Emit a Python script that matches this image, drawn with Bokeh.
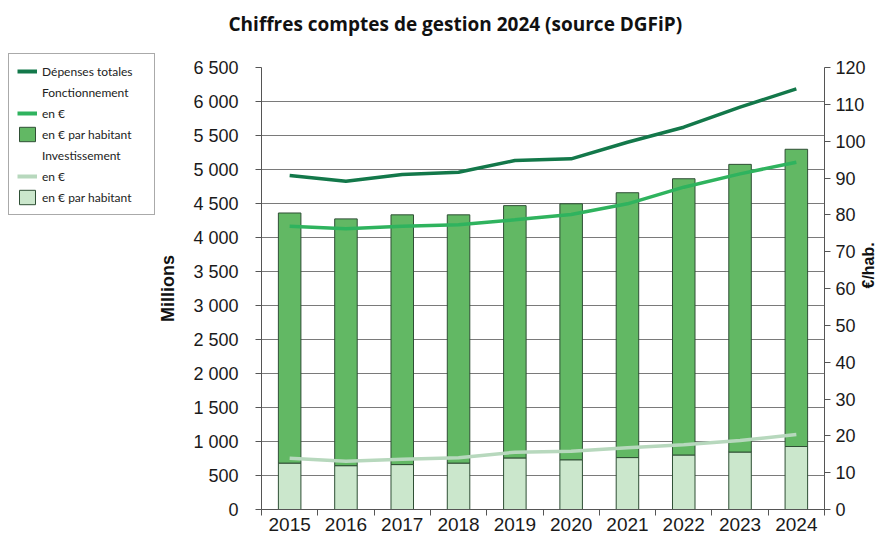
from bokeh.plotting import figure
from bokeh.models import (Range1d, LinearAxis, FixedTicker, Legend, LegendItem)
from bokeh.layouts import row, column
from bokeh.embed import file_html
from bokeh.resources import INLINE
import math

# ---- data ----
years = ["2015", "2016", "2017", "2018", "2019", "2020", "2021", "2022", "2023", "2024"]
depenses_totales = [4912, 4828, 4926, 4960, 5132, 5157, 5401, 5622, 5917, 6186]      # millions €
fonctionnement_eur = [4166, 4128, 4166, 4187, 4260, 4338, 4495, 4740, 4936, 5107]    # millions €
investissement_eur = [754, 710, 740, 760, 843, 857, 907, 951, 1015, 1103]            # millions €
investissement_hab = [12.6, 11.9, 12.2, 12.6, 14.0, 13.5, 14.1, 14.8, 15.6, 17.1]    # €/hab
fonctionnement_hab = [67.9, 67.0, 67.8, 67.4, 68.5, 69.5, 71.9, 75.0, 78.1, 80.7]    # €/hab
left_ticks = list(range(0, 6501, 500))
right_ticks = list(range(0, 121, 10))
title_text = "Chiffres comptes de gestion 2024 (source DGFiP)"

C_DARK = "#13784a"
C_MED = "#2fb35e"
C_LIGHT = "#b7d8bd"
BAR_MED = "#62b864"
BAR_LIGHT = "#cbe7cc"
BAR_EDGE = "#2f4f35"

xs = [i + 0.5 for i in range(len(years))]
bar_top = [a + b for a, b in zip(investissement_hab, fonctionnement_hab)]

TOP_H = 44
ROW_H = 542 - TOP_H
LEG_W = 155

# ---------------- title strip ----------------
t = figure(width=888, height=TOP_H, output_backend="svg", toolbar_location=None,
           x_axis_type=None, y_axis_type=None, x_range=Range1d(0, 1), y_range=Range1d(0, 1),
           min_border_left=0, min_border_right=0, min_border_top=0, min_border_bottom=0)
t.frame_align = False
t.outline_line_color = None
t.grid.visible = False
t.title.text = title_text
t.title.align = "left"
t.title.offset = 228
t.title.standoff = 16
t.title.text_font = "Open Sans"
t.title.text_font_style = "bold"
t.title.text_font_size = "19px"
t.title.text_color = "#111111"

# ---------------- main chart ----------------
p = figure(width=888 - LEG_W, height=ROW_H, output_backend="svg", toolbar_location=None,
           x_range=Range1d(0, len(years)), y_range=Range1d(0, 6500),
           min_border_left=256 - LEG_W, min_border_right=61,
           min_border_top=67 - TOP_H, min_border_bottom=33)
p.frame_align = False
p.extra_y_ranges = {"hab": Range1d(0, 120)}
p.outline_line_color = None
p.background_fill_color = "white"
p.border_fill_color = "white"

p.xgrid.visible = False
p.ygrid.ticker = FixedTicker(ticks=left_ticks)
p.ygrid.grid_line_color = "#7a7a7a"
p.ygrid.grid_line_width = 1

# bars (right axis, €/hab)
p.vbar(x=xs, bottom=0, top=investissement_hab, width=0.4, y_range_name="hab",
       fill_color=BAR_LIGHT, line_color=BAR_EDGE, line_width=1)
p.vbar(x=xs, bottom=investissement_hab, top=bar_top, width=0.4, y_range_name="hab",
       fill_color=BAR_MED, line_color=BAR_EDGE, line_width=1)

# lines (left axis, millions)
p.line(xs, investissement_eur, line_color=C_LIGHT, line_width=3.5)
p.line(xs, fonctionnement_eur, line_color=C_MED, line_width=3.5)
p.line(xs, depenses_totales, line_color=C_DARK, line_width=3.5)

tick_font = "Liberation Sans"
ax = p.xaxis[0]
ax.ticker = FixedTicker(ticks=xs, minor_ticks=list(range(0, len(years) + 1)))
ax.major_label_overrides = {x: y for x, y in zip(xs, years)}
ax.major_tick_out = 0
ax.major_tick_in = 0
ax.minor_tick_out = 6
ax.minor_tick_in = 0
ax.major_label_standoff = 2
ax.major_label_text_font = tick_font
ax.major_label_text_font_size = "19px"
ax.major_label_text_color = "#1a1a1a"
ax.axis_line_color = "#555555"
ax.minor_tick_line_color = "#555555"

ay = p.yaxis[0]
ay.ticker = FixedTicker(ticks=left_ticks)
ay.major_label_overrides = {t_: (f"{t_:,}".replace(",", " ")) for t_ in left_ticks}
ay.minor_tick_line_color = None
ay.major_tick_out = 6
ay.major_tick_in = 0
ay.major_label_standoff = 17
ay.major_label_text_font = tick_font
ay.major_label_text_font_size = "18px"
ay.major_label_text_color = "#1a1a1a"
ay.axis_line_color = "#555555"
ay.major_tick_line_color = "#555555"
ay.axis_label = "Millions"
ay.axis_label_text_font = "Liberation Sans"
ay.axis_label_text_font_style = "bold"
ay.axis_label_text_font_size = "18px"
ay.axis_label_text_color = "#111111"
ay.axis_label_standoff = 12

ar = LinearAxis(y_range_name="hab", ticker=FixedTicker(ticks=right_ticks))
ar.minor_tick_line_color = None
ar.major_tick_out = 6
ar.major_tick_in = 0
ar.major_label_standoff = 5
ar.major_label_text_font = tick_font
ar.major_label_text_font_size = "18px"
ar.major_label_text_color = "#1a1a1a"
ar.axis_line_color = "#555555"
ar.major_tick_line_color = "#555555"
ar.axis_label = "€/hab."
ar.axis_label_orientation = math.pi / 2
ar.axis_label_text_font = "Liberation Sans"
ar.axis_label_text_font_style = "bold"
ar.axis_label_text_font_size = "16px"
ar.axis_label_text_color = "#111111"
ar.axis_label_standoff = 0
p.add_layout(ar, "right")

# ---------------- legend panel ----------------
# The legend proxies hold the real series but lie entirely outside this panel's
# visible ranges, so only their legend swatches are shown.
lg = figure(width=LEG_W, height=ROW_H, output_backend="svg", toolbar_location=None,
            x_axis_type=None, y_axis_type=None,
            x_range=Range1d(-200, -100), y_range=Range1d(-20000, -10000),
            min_border_left=0, min_border_right=0, min_border_top=0, min_border_bottom=0)
lg.frame_align = False
lg.outline_line_color = None
lg.grid.visible = False
l_tot = lg.line(xs, depenses_totales, line_color=C_DARK, line_width=4)
l_fon = lg.line(xs, fonctionnement_eur, line_color=C_MED, line_width=4)
l_inv = lg.line(xs, investissement_eur, line_color=C_LIGHT, line_width=4)
l_fon_bar = lg.vbar(x=xs, bottom=investissement_hab, top=bar_top, width=0.4,
                    fill_color=BAR_MED, line_color=BAR_EDGE, line_width=1)
l_inv_bar = lg.vbar(x=xs, bottom=0, top=investissement_hab, width=0.4,
                    fill_color=BAR_LIGHT, line_color=BAR_EDGE, line_width=1)
l_blank = lg.line(xs, depenses_totales, line_alpha=0)

legend = Legend(items=[
    LegendItem(label="Dépenses totales", renderers=[l_tot]),
    LegendItem(label="Fonctionnement", renderers=[l_blank]),
    LegendItem(label="en €", renderers=[l_fon]),
    LegendItem(label="en € par habitant", renderers=[l_fon_bar]),
    LegendItem(label="Investissement", renderers=[l_blank]),
    LegendItem(label="en €", renderers=[l_inv]),
    LegendItem(label="en € par habitant", renderers=[l_inv_bar]),
], location=(8, 542 - 215))
legend.label_text_font = "Lato"
legend.label_text_font_size = "12px"
legend.label_text_color = "#222222"
legend.label_width = 104
legend.glyph_width = 20
legend.glyph_height = 18
legend.spacing = 3
legend.padding = 8
legend.margin = 0
legend.label_standoff = 5
legend.border_line_color = "#555555"
legend.border_line_width = 1
legend.background_fill_color = "white"
legend.background_fill_alpha = 1
lg.add_layout(legend)

layout = column(t, row(lg, p, spacing=0), spacing=0)
open("out.html", "w").write(file_html(layout, INLINE))
